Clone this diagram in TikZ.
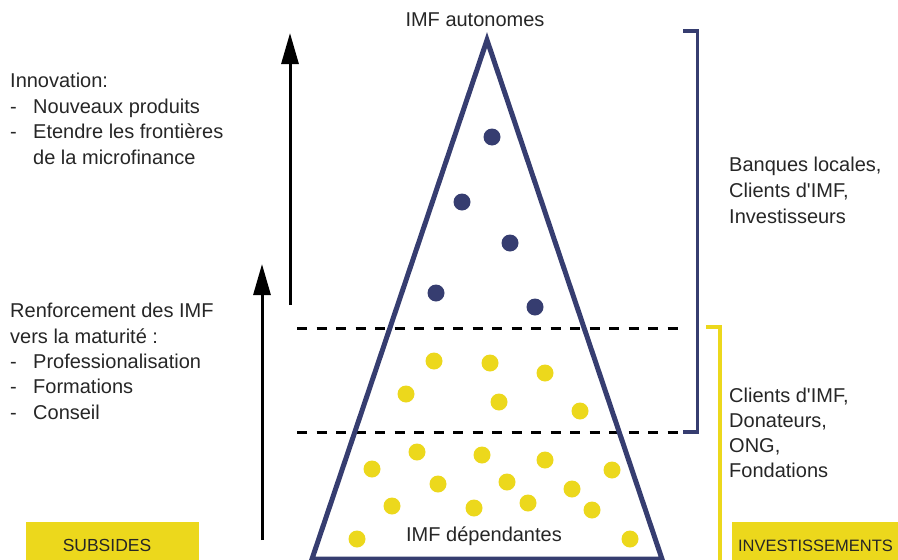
\documentclass[tikz,border=0pt]{standalone}
\usepackage{fontspec}
\setmainfont{Liberation Sans}
\usetikzlibrary{arrows.meta}
\definecolor{navy}{RGB}{54,61,112}
\definecolor{ylw}{RGB}{236,216,28}
\definecolor{txt}{RGB}{38,38,38}
\begin{document}
\begin{tikzpicture}[x=1pt,y=-1pt,
  lbl/.style={anchor=base west,inner sep=0pt,font=\fontsize{20}{24}\selectfont,text=txt},
  clbl/.style={anchor=base,inner sep=0pt,font=\fontsize{20}{24}\selectfont,text=txt},
  ndot/.style={circle,fill=navy,minimum size=17pt,inner sep=0pt},
  ydot/.style={circle,fill=ylw,minimum size=17pt,inner sep=0pt},
  dashline/.style={black,line width=3pt,dash pattern=on 10pt off 9.5pt},
  uparrow/.style={black,line width=3pt,-{Triangle[width=17pt,length=31pt]}},
  ybox/.style={fill=ylw,anchor=north west,inner sep=0pt,minimum height=38pt},
  boxlbl/.style={anchor=base,inner sep=0pt,font=\fontsize{16.5}{20}\selectfont,text=txt},
  bracket/.style={line width=3.5pt}]
\useasboundingbox (0,0) rectangle (898,560);

% bottom boxes
\node[ybox,minimum width=173pt] (subsbox) at (26,522) {};
\node[boxlbl,font=\fontsize{17.5}{20}\selectfont] (subs) at (107,551) {SUBSIDES};
\node[ybox,minimum width=170pt] (invbox) at (732,522) {};
\node[boxlbl] (inv) at (815.5,551) {INVESTISSEMENTS};

% dashed lines
\coordinate (d1a) at (297,328); \coordinate (d1b) at (682,328);
\coordinate (d2a) at (297,432); \coordinate (d2b) at (683,432);
\draw[dashline] (d1a) -- (d1b);
\draw[dashline] (d2a) -- (d2b);

% triangle
\coordinate (apex) at (487,40);
\coordinate (bl) at (312,559);
\coordinate (br) at (662,559);
\draw[navy,line width=5pt,line join=miter] (apex) -- (bl) -- (br) -- cycle;

% dots
\foreach \x/\y [count=\i] in {492/137,462/202,510/243,436/293,535/307}
  \node[ndot] (n\i) at (\x,\y) {};
\foreach \x/\y [count=\i] in {434/361,490/363,545/373,406/394,499/402,580/411,
  417/452,482/455,545/460,372/469,612/470,438/484,507/482,572/489,
  392/506,474/508,528/503,592/510,357/539,630/539}
  \node[ydot] (y\i) at (\x,\y) {};

% brackets
\coordinate (b1a) at (683,31); \coordinate (b1b) at (697.5,31);
\coordinate (b1c) at (697.5,432); \coordinate (b1d) at (683,432);
\draw[navy,bracket] (b1a) -- (b1b) -- (b1c) -- (b1d);
\coordinate (b2a) at (706,327); \coordinate (b2b) at (720,327);
\coordinate (b2c) at (720,562);
\draw[ylw,bracket] (b2a) -- (b2b) -- (b2c);

% arrows
\coordinate (a1s) at (290,305); \coordinate (a1e) at (290,33);
\coordinate (a2s) at (262,540); \coordinate (a2e) at (262,264);
\draw[uparrow] (a1s) -- (a1e);
\draw[uparrow] (a2s) -- (a2e);

% titles
\node[clbl] (top) at (475,26) {IMF autonomes};
\node[clbl] (bottom) at (484,541) {IMF dépendantes};

% left texts
\node[lbl] (t1) at (10,87) {Innovation:};
\node[lbl] (t2d) at (10,113) {-};
\node[lbl] (t2) at (33,113) {Nouveaux produits};
\node[lbl] (t3d) at (10,138) {-};
\node[lbl] (t3) at (33,138) {Etendre les frontières};
\node[lbl] (t4) at (33,164) {de la microfinance};

\node[lbl] (r1) at (10,317) {Renforcement des IMF};
\node[lbl] (r2) at (10,343) {vers la maturité :};
\node[lbl] (r3d) at (10,368) {-};
\node[lbl] (r3) at (33,368) {Professionalisation};
\node[lbl] (r4d) at (10,393) {-};
\node[lbl] (r4) at (33,393) {Formations};
\node[lbl] (r5d) at (10,419) {-};
\node[lbl] (r5) at (33,419) {Conseil};

% right texts
\node[lbl] (s1) at (729,171) {Banques locales,};
\node[lbl] (s2) at (729,197) {Clients d\textquotesingle IMF,};
\node[lbl] (s3) at (729,223) {Investisseurs};
\node[lbl] (u1) at (729,402) {Clients d\textquotesingle IMF,};
\node[lbl] (u2) at (729,427) {Donateurs,};
\node[lbl] (u3) at (729,452) {ONG,};
\node[lbl] (u4) at (729,477) {Fondations};
\end{tikzpicture}
\end{document}
